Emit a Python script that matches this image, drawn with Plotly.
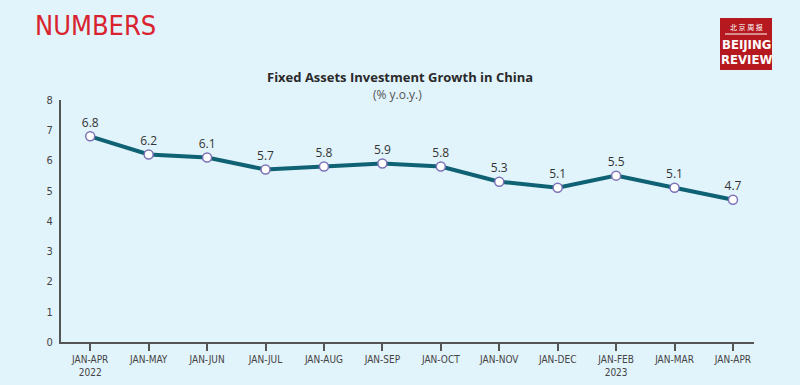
import plotly.graph_objects as go

categories = ["JAN-APR<br>2022", "JAN-MAY", "JAN-JUN", "JAN-JUL", "JAN-AUG", "JAN-SEP",
              "JAN-OCT", "JAN-NOV", "JAN-DEC", "JAN-FEB<br>2023", "JAN-MAR", "JAN-APR"]
values = [6.8, 6.2, 6.1, 5.7, 5.8, 5.9, 5.8, 5.3, 5.1, 5.5, 5.1, 4.7]
labels = [f"{v:.1f}" for v in values]
y_ticks = [0, 1, 2, 3, 4, 5, 6, 7, 8]

BG = "#e1f3fb"
COND = "DejaVu Sans Condensed, Liberation Sans Narrow, Roboto Condensed, sans-serif"
x_idx = list(range(len(categories)))

M_L, M_R, M_T, M_B = 61, 46, 100, 43

fig = go.Figure()
fig.add_trace(go.Scatter(
    x=x_idx, y=values, mode="lines+markers+text",
    text=labels, textposition="top center",
    textfont=dict(family="Open Sans, sans-serif", size=12, color="#333333"),
    line=dict(color="#0f6273", width=4),
    marker=dict(size=9, color="white", line=dict(color="#7e72b8", width=1.5)),
    cliponaxis=False, hoverinfo="skip"
))

fig.update_layout(
    width=800, height=385,
    paper_bgcolor=BG, plot_bgcolor=BG,
    margin=dict(l=M_L, r=M_R, t=M_T, b=M_B),
    showlegend=False,
    xaxis=dict(
        range=[-0.5, 11.36], tickmode="array", tickvals=x_idx, ticktext=categories,
        showgrid=False, zeroline=False, showline=True, linecolor="#555555", linewidth=2,
        ticks="outside", ticklen=7, tickwidth=1.5, tickcolor="#555555",
        tickfont=dict(family=COND, size=10, color="#444444"),
        fixedrange=True, automargin=False,
    ),
    yaxis=dict(
        range=[0, 8], tickmode="array", tickvals=y_ticks,
        showgrid=False, zeroline=False, showline=True, linecolor="#555555", linewidth=2,
        ticks="", ticklabelstandoff=4,
        tickfont=dict(family=COND, size=11, color="#444444"),
        fixedrange=True, automargin=False,
    ),
)

plot_h = 385 - M_T - M_B
plot_w = 800 - M_L - M_R
def py(pix):
    return (385 - M_B - pix) / plot_h
def px(pix):
    return (pix - M_L) / plot_w

fig.layout.annotations = [
    dict(text="<b>Fixed Assets Investment Growth in China</b>", x=px(400), xref="paper",
         y=py(77), yref="paper", yanchor="middle", xanchor="center", showarrow=False,
         font=dict(family="Open Sans, sans-serif", size=13, color="#2a2a2a")),
    dict(text="(% y.o.y.)", x=px(397), xref="paper",
         y=py(95), yref="paper", yanchor="middle", xanchor="center", showarrow=False,
         font=dict(family="Open Sans, sans-serif", size=12, color="#555555")),
    dict(text="NUMBERS", x=px(33), xref="paper", y=py(25), yref="paper",
         xanchor="left", yanchor="middle", showarrow=False,
         font=dict(family=COND, size=27, color="#d9232e")),
    dict(text="北 京 周 报", x=px(746), xref="paper", y=py(27), yref="paper",
         xanchor="center", yanchor="middle", showarrow=False,
         font=dict(family="Noto Sans CJK SC", size=7, color="white")),
    dict(text="<b>BEIJING</b>", x=px(746), xref="paper", y=py(44), yref="paper",
         xanchor="center", yanchor="middle", showarrow=False,
         font=dict(family=COND, size=13, color="white")),
    dict(text="<b>REVIEW</b>", x=px(746), xref="paper", y=py(59), yref="paper",
         xanchor="center", yanchor="middle", showarrow=False,
         font=dict(family=COND, size=13, color="white")),
]
fig.layout.shapes = [
    dict(type="rect", xref="paper", yref="paper", x0=px(720), x1=px(772), y0=py(70), y1=py(18),
         fillcolor="#b5191f", line=dict(width=0), layer="below"),
    dict(type="line", xref="paper", yref="paper", x0=px(725), x1=px(767), y0=py(34), y1=py(34),
         line=dict(color="white", width=1)),
]

fig.write_html("out.html", config={"displayModeBar": False},
               post_script="document.body.style.margin='0';document.body.style.background='%s';" % BG)
